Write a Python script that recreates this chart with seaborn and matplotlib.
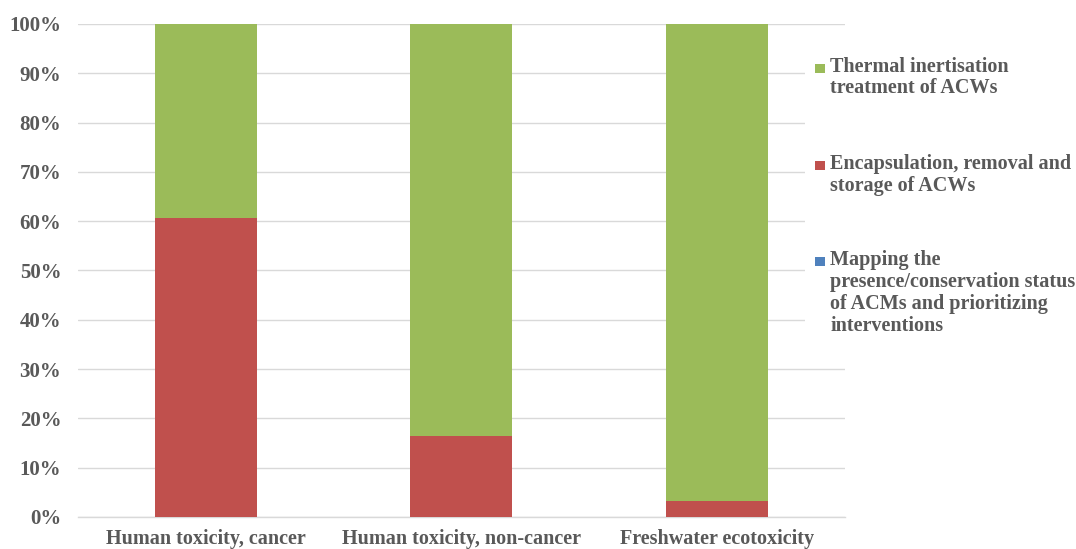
import matplotlib
matplotlib.use("Agg")
import matplotlib.pyplot as plt
from matplotlib.patches import Rectangle
from matplotlib.ticker import PercentFormatter
import pandas as pd
import seaborn as sns

categories = ["Human toxicity, cancer", "Human toxicity, non-cancer", "Freshwater ecotoxicity"]
mapping = [0.0, 0.0, 0.0]
encapsulation = [60.6, 16.4, 3.3]
thermal = [39.4, 83.6, 96.7]

series_labels = [
    "Thermal inertisation\ntreatment of ACWs",
    "Encapsulation, removal and\nstorage of ACWs",
    "Mapping the\npresence/conservation status\nof ACMs and prioritizing\ninterventions",
]
colors = {"thermal": "#9BBB59", "encap": "#C0504D", "mapping": "#4F81BD"}
text_color = "#595959"

sns.set_theme(style="white")
plt.rcParams["font.family"] = ["Liberation Serif", "DejaVu Serif"]
plt.rcParams["font.weight"] = "bold"

df = pd.DataFrame({
    "category": categories,
    "mapping": mapping,
    "encap": encapsulation,
    "thermal": thermal,
})
# cumulative tops for stacking
df["top_mapping"] = df["mapping"]
df["top_encap"] = df["mapping"] + df["encap"]
df["top_thermal"] = df["top_encap"] + df["thermal"]

fig = plt.figure(figsize=(10.76, 5.49), dpi=100)
ax = fig.add_axes([0.0725, 0.0583, 0.7125, 0.8980])

for col, key in [("top_thermal", "thermal"), ("top_encap", "encap"), ("top_mapping", "mapping")]:
    sns.barplot(data=df, x="category", y=col, color=colors[key], width=0.4,
                saturation=1, ax=ax, zorder=3, linewidth=0)

ax.set_xlim(-0.5, 2.5)
ax.set_ylim(0, 100)
ax.set_yticks(range(0, 101, 10))
ax.yaxis.set_major_formatter(PercentFormatter(decimals=0))
ax.grid(axis="y", color="#D9D9D9", linewidth=1, zorder=0)
ax.set_axisbelow(True)
ax.set_xlabel("")
ax.set_ylabel("")
for side in ["left", "right", "top"]:
    ax.spines[side].set_visible(False)
ax.spines["bottom"].set_color("#D9D9D9")
ax.spines["bottom"].set_linewidth(1)
ax.tick_params(axis="y", length=0, labelsize=15, colors=text_color, pad=12)
ax.tick_params(axis="x", length=0, labelsize=14.5, colors=text_color, pad=8.5)
for lab in ax.get_xticklabels() + ax.get_yticklabels():
    lab.set_fontweight("bold")

# legend panel at the right
leg_keys = ["thermal", "encap", "mapping"]
tops = [0.897, 0.72, 0.545]
fig.patches.append(Rectangle((0.748, 0.40), 0.25, 0.55, transform=fig.transFigure,
                             facecolor="white", edgecolor="none", zorder=1))
for key, lab, ty in zip(leg_keys, series_labels, tops):
    fig.patches.append(Rectangle((0.7575, ty - 0.0295), 0.0093, 0.0164, transform=fig.transFigure,
                                 facecolor=colors[key], edgecolor="none", zorder=2))
    fig.text(0.7715, ty, lab, ha="left", va="top", fontsize=14.5, fontweight="bold",
             color=text_color, linespacing=1.13, zorder=3)

fig.savefig("out.png", dpi=100)
